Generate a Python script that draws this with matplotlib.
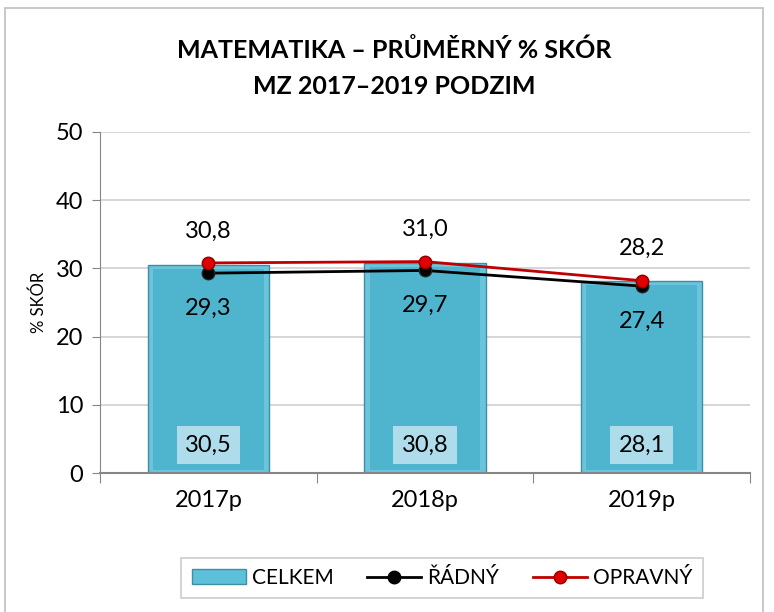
import matplotlib
matplotlib.use("Agg")
import matplotlib.pyplot as plt
from matplotlib.patches import Rectangle

# data
roky = ["2017p", "2018p", "2019p"]
celkem = [30.5, 30.8, 28.1]
radny = [29.3, 29.7, 27.4]
opravny = [30.8, 31.0, 28.2]

plt.rcParams["font.family"] = ["Lato", "DejaVu Sans"]

fig = plt.figure(figsize=(7.74, 6.12), dpi=100)
ax = fig.add_axes([100 / 774, 139 / 612, 650 / 774, 341 / 612])

# outer chart border
fig.patches.append(Rectangle((5 / 774, -0.01), 758 / 774, 1 - 8 / 612 + 0.01,
                             transform=fig.transFigure, fill=False,
                             edgecolor="#bfbfbf", linewidth=1.2))

x = list(range(len(roky)))
sirka = 0.56

# bars with a simple bevel look
ax.bar(x, celkem, width=sirka, color="#6cc4da", edgecolor="#3d8fa4",
       linewidth=1.0, zorder=2)
ax.bar(x, [c - 1.0 for c in celkem], bottom=0.4, width=sirka - 0.05,
       color="#4fb5ce", linewidth=0, zorder=2.1)

ax.plot(x, radny, color="black", lw=2, marker="o", ms=9,
        markeredgecolor="#222222", zorder=4)
ax.plot(x, opravny, color="#c00000", lw=2, marker="o", ms=9,
        markerfacecolor="#e00000", markeredgecolor="#900000", zorder=5)

for xi, c in zip(x, celkem):
    ax.text(xi, 4.1, f"{c:.1f}".replace(".", ","), ha="center", va="center",
            fontsize=17, zorder=6,
            bbox=dict(boxstyle="square,pad=0.35", facecolor="#aedcea",
                      edgecolor="none"))
for xi, v in zip(x, radny):
    ax.annotate(f"{v:.1f}".replace(".", ","), (xi, v), xytext=(0, -25),
                textcoords="offset points", ha="center", va="center",
                fontsize=17, zorder=6)
for xi, v in zip(x, opravny):
    ax.annotate(f"{v:.1f}".replace(".", ","), (xi, v), xytext=(0, 23),
                textcoords="offset points", ha="center", va="center",
                fontsize=17, zorder=6)

ax.set_xlim(-0.5, 2.5)
ax.set_ylim(0, 50)
ax.set_yticks(range(0, 51, 10))
ax.tick_params(axis="y", labelsize=17, length=6, color="#868686", pad=6)
ax.set_xticks([-0.5, 0.5, 1.5, 2.5])
ax.set_xticklabels([])
ax.set_xticks(x, minor=True)
ax.set_xticklabels(roky, minor=True)
ax.tick_params(axis="x", which="major", length=7, color="#868686", direction="out")
ax.tick_params(axis="x", which="minor", length=0, labelsize=17, pad=12)

ax.grid(axis="y", color="#d0d0d0", linewidth=1.2, zorder=0)
ax.set_axisbelow(True)
for s in ["top", "right"]:
    ax.spines[s].set_visible(False)
ax.spines["left"].set_color("#868686")
ax.spines["bottom"].set_color("#868686")
ax.spines["bottom"].set_linewidth(1.5)

ax.set_ylabel("% SKÓR", fontsize=12, labelpad=6)

fig.text(394 / 774, 1 - 50 / 612, "MATEMATIKA – PRŮMĚRNÝ % SKÓR",
         ha="center", va="center", fontsize=18, fontweight="bold")
fig.text(394 / 774, 1 - 86 / 612, "MZ 2017–2019 PODZIM",
         ha="center", va="center", fontsize=18, fontweight="bold")

h_bar = Rectangle((0, 0), 1, 1, facecolor="#5bc0d8", edgecolor="#3d8fa4")
h_r, = ax.plot([], [], color="black", lw=2, marker="o", ms=9)
h_o, = ax.plot([], [], color="#c00000", lw=2, marker="o", ms=9,
               markerfacecolor="#e00000", markeredgecolor="#900000")
leg = fig.legend([h_bar, h_r, h_o], ["CELKEM", "ŘÁDNÝ", "OPRAVNÝ"],
                 loc="center", bbox_to_anchor=(442 / 774, 1 - 578 / 612),
                 ncol=3, fontsize=15, frameon=True, fancybox=False,
                 edgecolor="#bfbfbf", handlelength=2.6, handletextpad=0.3,
                 columnspacing=1.6, borderpad=0.5)
leg.get_frame().set_linewidth(1.2)

fig.savefig("out.png", dpi=100)
